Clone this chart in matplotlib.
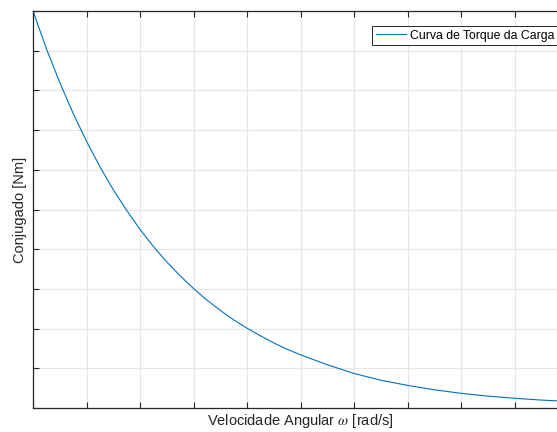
import matplotlib.pyplot as plt

plt.rcParams['font.family'] = ['Liberation Sans', 'DejaVu Sans']
plt.rcParams['mathtext.fontset'] = 'stix'

# Valores (velocidade em divisões do eixo, conjugado em divisões)
velocidade = [0, 0.25, 0.5, 0.75, 1, 1.25, 1.5, 1.75, 2, 2.25, 2.5, 2.75, 3,
              3.25, 3.5, 3.75, 4, 4.25, 4.5, 4.75, 5, 5.5, 6, 6.5, 7, 7.5, 8,
              8.5, 9, 9.5, 10]
conjugado = [10.0, 9.05, 8.2, 7.42, 6.72, 6.08, 5.5, 4.98, 4.5, 4.07, 3.68, 3.33, 3.01,
             2.72, 2.46, 2.22, 2.01, 1.82, 1.64, 1.48, 1.34, 1.09, 0.87, 0.7, 0.57,
             0.46, 0.37, 0.3, 0.245, 0.2, 0.165]

xticks = list(range(0, 11))
yticks = list(range(0, 11))

cor_eixo = '#262626'

fig = plt.figure(figsize=(5.57, 4.32), dpi=100)
ax = fig.add_axes([33 / 557, (432 - 408) / 432, (568 - 33) / 557, (408 - 11) / 432])

ax.plot(velocidade, conjugado, color='#0072BD', lw=0.8, label='Curva de Torque da Carga')

ax.set_xlim(0, 10)
ax.set_ylim(0, 10)
ax.set_xticks(xticks)
ax.set_yticks(yticks)
ax.set_xticklabels([])
ax.set_yticklabels([])
ax.tick_params(direction='in', length=4, width=0.8, color=cor_eixo,
               top=True, right=True, pad=0)
ax.grid(True, color='#e6e6e6', lw=0.8)
ax.set_axisbelow(True)
for s in ax.spines.values():
    s.set_color(cor_eixo)
    s.set_linewidth(0.9)

ax.set_xlabel(r'Velocidade Angular $\omega$ [rad/s]', fontsize=10.5, color=cor_eixo, labelpad=3)
ax.set_ylabel('Conjugado [Nm]', fontsize=10.5, color=cor_eixo, labelpad=4)

leg = ax.legend(loc='upper left', bbox_to_anchor=(372 / 557, 1 - 26 / 432),
                bbox_transform=fig.transFigure, fontsize=8.8, fancybox=False,
                framealpha=1, borderpad=0.3, handlelength=2.5, handletextpad=0.3,
                borderaxespad=0)
leg.get_frame().set_edgecolor(cor_eixo)
leg.get_frame().set_linewidth(0.7)

fig.savefig('out.png', dpi=100)
